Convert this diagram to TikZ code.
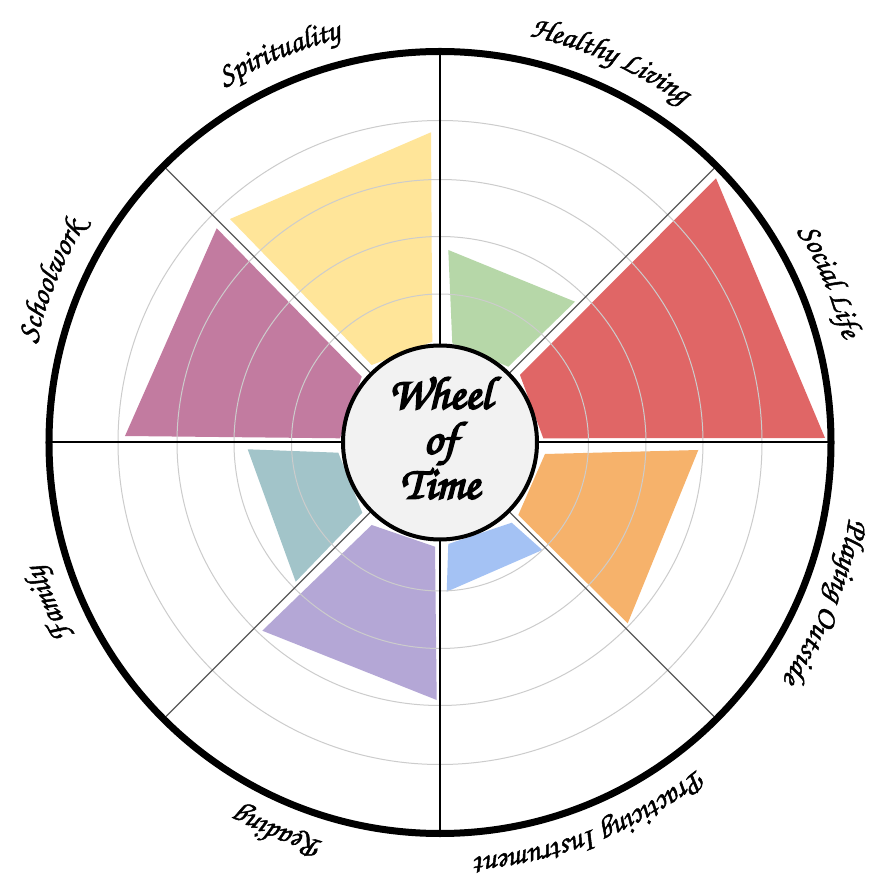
\documentclass[tikz,border=0pt]{standalone}
\usepackage{fontspec}
\newfontfamily\chorus[FakeBold=1.6]{texgyrechorus-mediumitalic.otf}
\newfontfamily\chorusb[FakeBold=4]{texgyrechorus-mediumitalic.otf}
\usetikzlibrary{decorations.text}
\definecolor{cRed}{HTML}{E06666}
\definecolor{cOrange}{HTML}{F6B26B}
\definecolor{cYellow}{HTML}{FFE599}
\definecolor{cGreen}{HTML}{B6D7A8}
\definecolor{cBlue}{HTML}{A4C2F4}
\definecolor{cPurple}{HTML}{B4A7D6}
\definecolor{cMagenta}{HTML}{C27BA0}
\definecolor{cTeal}{HTML}{A2C4C9}
\definecolor{cHub}{HTML}{F2F2F2}
\newcommand\lblfont{\chorus\fontsize{31}{31}\selectfont}
\begin{document}
\begin{tikzpicture}[x=1pt,y=1pt,
  gridring/.style={draw=black!20, line width=1pt},
  mainspoke/.style={draw=black, line width=2pt},
  diagspoke/.style={draw=black!65, line width=1.2pt},
  wlabel/.style={decorate, decoration={text along path, text align=center, text={|\lblfont|#1}}},
  hubtext/.style={font=\chorusb\fontsize{46}{46}\selectfont, anchor=base, inner sep=0pt}
]
\useasboundingbox (-440,-447.5) rectangle (438,442.5);
\fill[white] (-440,-447.5) rectangle (438,442.5);
\coordinate (C) at (0,0);
% sectors
\fill[cRed] (103.3,4.2) -- (385,4.5) -- (276,264.2) -- (80,67.5) -- cycle;
\fill[cGreen] (12.3,99.2) -- (8.3,192.5) -- (135,140.8) -- (68.3,75.8) -- cycle;
\fill[cYellow] (-7.7,100.8) -- (-9,310.2) -- (-210,223.5) -- (-68.3,77.5) -- cycle;
\fill[cMagenta] (-100,4.2) -- (-315,6.5) -- (-223.3,214.2) -- (-78.3,65.8) -- cycle;
\fill[cTeal] (-101.7,-10.2) -- (-192.3,-6.8) -- (-144.3,-139.2) -- (-77.7,-70.2) -- cycle;
\fill[cPurple] (-5,-104.2) -- (-3.3,-257.5) -- (-177.7,-188.2) -- (-68.3,-82.5) -- cycle;
\fill[cBlue] (8.3,-101.5) -- (6.7,-149.2) -- (102.3,-107.5) -- (71.7,-80.2) -- cycle;
\fill[cOrange] (105,-11.5) -- (258.3,-7.5) -- (187.7,-180.8) -- (78.3,-72.5) -- cycle;
% grid rings
\foreach \r in {148.5,206,263,322} \draw[gridring] (C) circle[radius=\r pt];
% spokes
\foreach \a in {0,90,180,270} \draw[mainspoke] (\a:97) -- (\a:391);
\foreach \a in {45,135,225,315} \draw[diagspoke] (\a:97) -- (\a:391);
% rim
\draw[line width=7pt] (C) circle[radius=391pt];
% hub
\node[circle, draw=black, line width=4pt, fill=cHub, minimum size=194pt, inner sep=0pt] (hub) at (C) {};
\node[hubtext] (t1) at (0,34) {Wheel};
\node[hubtext] (t2) at (0,-11) {of};
\node[hubtext] (t3) at (0,-56) {Time};
% labels
\path[wlabel=Healthy Living] (111:416) arc[start angle=111, end angle=21, radius=416pt];
\path[wlabel=Social Life] (67.5:416) arc[start angle=67.5, end angle=-22.5, radius=416pt];
\path[wlabel=Playing Outside] (22.5:416) arc[start angle=22.5, end angle=-67.5, radius=416pt];
\path[wlabel=Practicing Instrument] (-23.5:416) arc[start angle=-23.5, end angle=-113.5, radius=416pt];
\path[wlabel=Reading] (-67.5:416) arc[start angle=-67.5, end angle=-157.5, radius=416pt];
\path[wlabel=Family] (-112.5:416) arc[start angle=-112.5, end angle=-202.5, radius=416pt];
\path[wlabel=Schoolwork] (202.5:416) arc[start angle=202.5, end angle=112.5, radius=416pt];
\path[wlabel=Spirituality] (157.5:416) arc[start angle=157.5, end angle=67.5, radius=416pt];
\end{tikzpicture}
\end{document}
